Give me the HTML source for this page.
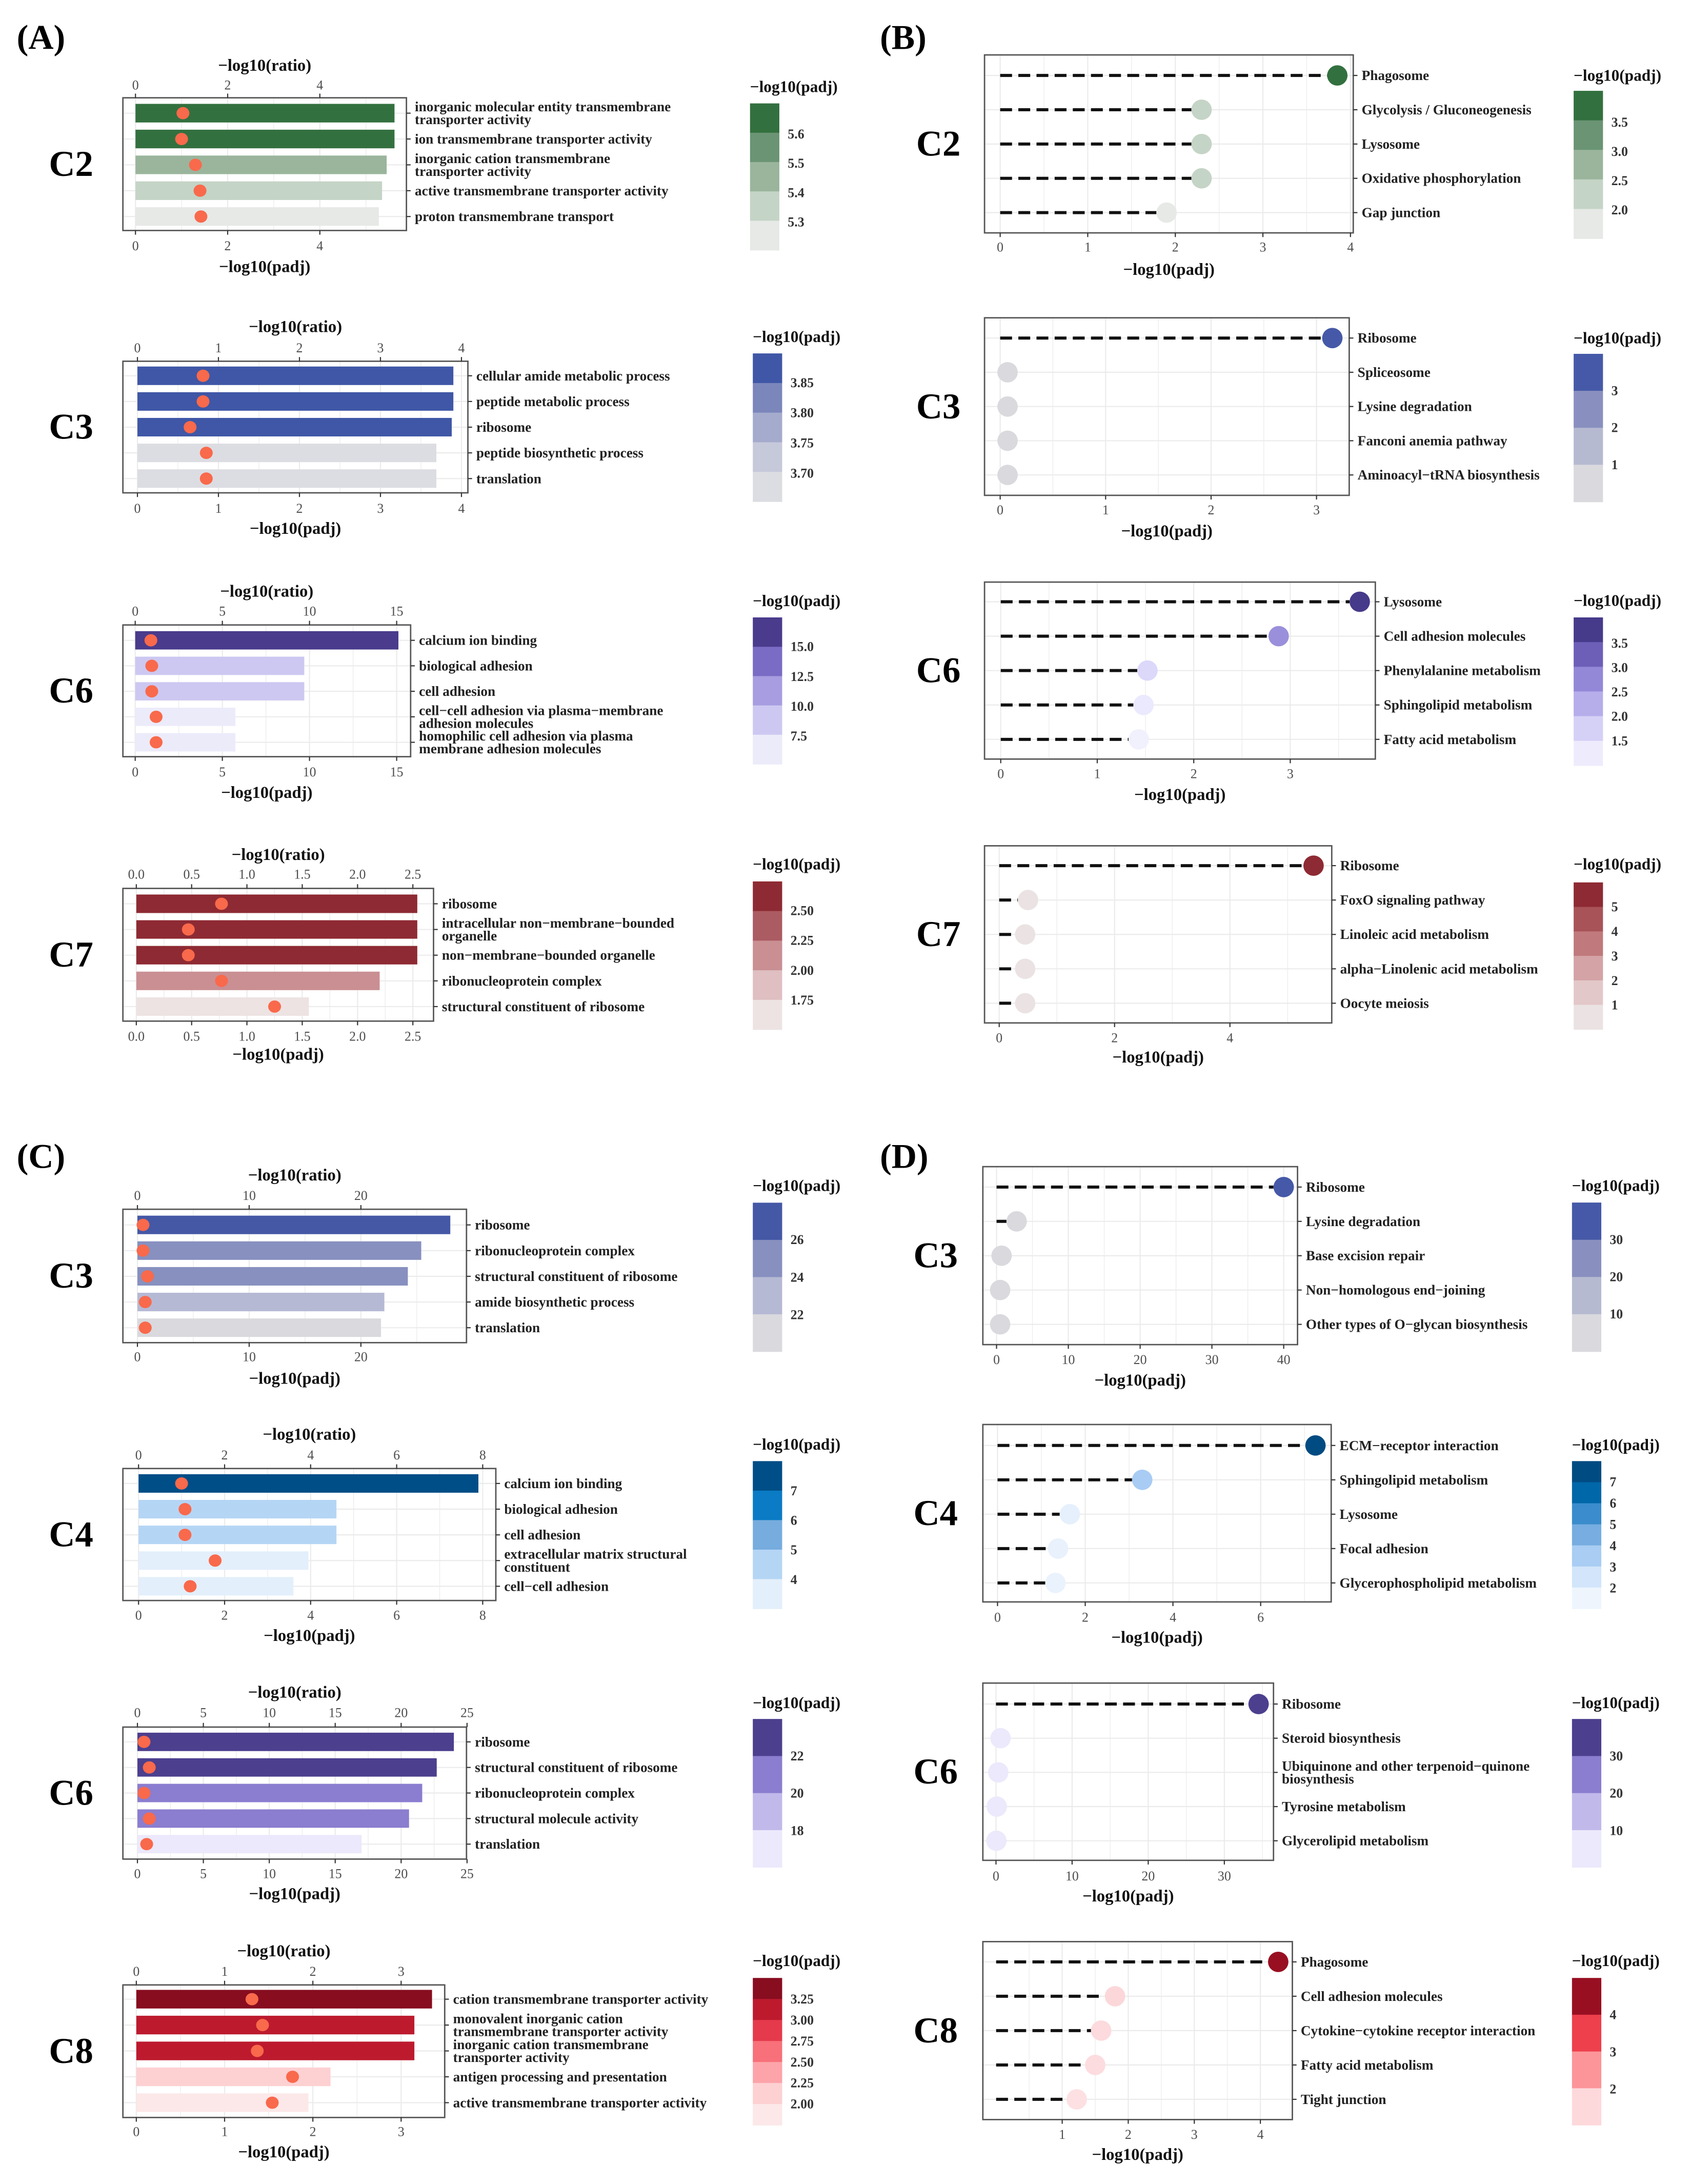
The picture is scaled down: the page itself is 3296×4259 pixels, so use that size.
<!DOCTYPE html>
<html><head><meta charset="utf-8"><style>
html,body{margin:0;padding:0;background:#fff;}
svg{display:block;}
text{font-family:"Liberation Serif",serif;}
</style></head><body>
<svg id="fig" width="3296" height="4259" viewBox="0 0 1210 1563.5" xmlns="http://www.w3.org/2000/svg">
<rect x="0" y="0" width="1210" height="1563.5" fill="#fff"/>
<text x="12" y="35" font-size="25" font-weight="bold">(A)</text>
<text x="630" y="35" font-size="25" font-weight="bold">(B)</text>
<text x="12" y="836" font-size="25" font-weight="bold">(C)</text>
<text x="630" y="836" font-size="25" font-weight="bold">(D)</text>
</svg>
<script>
// ---------- DATA ----------
// Panel A (GO bar charts)
const aC2_terms = ["inorganic molecular entity transmembrane\ntransporter activity","ion transmembrane transporter activity","inorganic cation transmembrane\ntransporter activity","active transmembrane transporter activity","proton transmembrane transport"];
const aC2_padj = [5.62,5.62,5.45,5.35,5.28];
const aC2_ratio = [1.03,1.0,1.3,1.4,1.42];
const aC2_ticks = [0,2,4];
const aC2_tickLabels = ["0","2","4"];
const aC2_legVals = [5.6,5.5,5.4,5.3];
const aC2_legLabels = ["5.6","5.5","5.4","5.3"];

const aC3_terms = ["cellular amide metabolic process","peptide metabolic process","ribosome","peptide biosynthetic process","translation"];
const aC3_padj = [3.9,3.9,3.88,3.69,3.69];
const aC3_ratio = [0.81,0.81,0.65,0.85,0.85];
const aC3_ticks = [0,1,2,3,4];
const aC3_tickLabels = ["0","1","2","3","4"];
const aC3_legVals = [3.85,3.80,3.75,3.70];
const aC3_legLabels = ["3.85","3.80","3.75","3.70"];

const aC6_terms = ["calcium ion binding","biological adhesion","cell adhesion","cell−cell adhesion via plasma−membrane\nadhesion molecules","homophilic cell adhesion via plasma\nmembrane adhesion molecules"];
const aC6_padj = [15.1,9.7,9.7,5.75,5.75];
const aC6_ratio = [0.9,0.95,0.95,1.2,1.2];
const aC6_ticks = [0,5,10,15];
const aC6_tickLabels = ["0","5","10","15"];
const aC6_legVals = [15,12.5,10,7.5];
const aC6_legLabels = ["15.0","12.5","10.0","7.5"];

const aC7_terms = ["ribosome","intracellular non−membrane−bounded\norganelle","non−membrane−bounded organelle","ribonucleoprotein complex","structural constituent of ribosome"];
const aC7_padj = [2.54,2.54,2.54,2.2,1.56];
const aC7_ratio = [0.77,0.47,0.47,0.77,1.25];
const aC7_ticks = [0,0.5,1,1.5,2,2.5];
const aC7_tickLabels = ["0.0","0.5","1.0","1.5","2.0","2.5"];
const aC7_legVals = [2.5,2.25,2.0,1.75];
const aC7_legLabels = ["2.50","2.25","2.00","1.75"];

// Panel C (GO bar charts)
const cC3_terms = ["ribosome","ribonucleoprotein complex","structural constituent of ribosome","amide biosynthetic process","translation"];
const cC3_padj = [28,25.4,24.2,22.1,21.8];
const cC3_ratio = [0.5,0.5,0.9,0.7,0.7];
const cC3_ticks = [0,10,20];
const cC3_tickLabels = ["0","10","20"];
const cC3_legVals = [26,24,22];
const cC3_legLabels = ["26","24","22"];

const cC4_terms = ["calcium ion binding","biological adhesion","cell adhesion","extracellular matrix structural\nconstituent","cell−cell adhesion"];
const cC4_padj = [7.9,4.6,4.6,3.95,3.6];
const cC4_ratio = [1.0,1.08,1.08,1.78,1.2];
const cC4_ticks = [0,2,4,6,8];
const cC4_tickLabels = ["0","2","4","6","8"];
const cC4_legVals = [7,6,5,4];
const cC4_legLabels = ["7","6","5","4"];

const cC6_terms = ["ribosome","structural constituent of ribosome","ribonucleoprotein complex","structural molecule activity","translation"];
const cC6_padj = [24,22.7,21.6,20.6,17];
const cC6_ratio = [0.5,0.9,0.5,0.9,0.7];
const cC6_ticks = [0,5,10,15,20,25];
const cC6_tickLabels = ["0","5","10","15","20","25"];
const cC6_legVals = [22,20,18];
const cC6_legLabels = ["22","20","18"];

const cC8_terms = ["cation transmembrane transporter activity","monovalent inorganic cation\ntransmembrane transporter activity","inorganic cation transmembrane\ntransporter activity","antigen processing and presentation","active transmembrane transporter activity"];
const cC8_padj = [3.35,3.15,3.15,2.2,1.95];
const cC8_ratio = [1.31,1.43,1.37,1.77,1.54];
const cC8_ticks = [0,1,2,3];
const cC8_tickLabels = ["0","1","2","3"];
const cC8_legVals = [3.25,3.0,2.75,2.5,2.25,2.0];
const cC8_legLabels = ["3.25","3.00","2.75","2.50","2.25","2.00"];

// Panel B (KEGG lollipops)
const bC2_terms = ["Phagosome","Glycolysis / Gluconeogenesis","Lysosome","Oxidative phosphorylation","Gap junction"];
const bC2_padj = [3.85,2.3,2.3,2.3,1.9];
const bC2_ticks = [0,1,2,3,4];
const bC2_tickLabels = ["0","1","2","3","4"];
const bC2_legVals = [3.5,3.0,2.5,2.0];
const bC2_legLabels = ["3.5","3.0","2.5","2.0"];

const bC3_terms = ["Ribosome","Spliceosome","Lysine degradation","Fanconi anemia pathway","Aminoacyl−tRNA biosynthesis"];
const bC3_padj = [3.15,0.07,0.07,0.07,0.07];
const bC3_ticks = [0,1,2,3];
const bC3_tickLabels = ["0","1","2","3"];
const bC3_legVals = [3,2,1];
const bC3_legLabels = ["3","2","1"];

const bC6_terms = ["Lysosome","Cell adhesion molecules","Phenylalanine metabolism","Sphingolipid metabolism","Fatty acid metabolism"];
const bC6_padj = [3.72,2.88,1.52,1.48,1.43];
const bC6_ticks = [0,1,2,3];
const bC6_tickLabels = ["0","1","2","3"];
const bC6_legVals = [3.5,3.0,2.5,2.0,1.5];
const bC6_legLabels = ["3.5","3.0","2.5","2.0","1.5"];

const bC7_terms = ["Ribosome","FoxO signaling pathway","Linoleic acid metabolism","alpha−Linolenic acid metabolism","Oocyte meiosis"];
const bC7_padj = [5.45,0.5,0.45,0.45,0.45];
const bC7_ticks = [0,2,4];
const bC7_tickLabels = ["0","2","4"];
const bC7_legVals = [5,4,3,2,1];
const bC7_legLabels = ["5","4","3","2","1"];

// Panel D (KEGG lollipops)
const dC3_terms = ["Ribosome","Lysine degradation","Base excision repair","Non−homologous end−joining","Other types of O−glycan biosynthesis"];
const dC3_padj = [40,2.8,0.7,0.5,0.5];
const dC3_ticks = [0,10,20,30,40];
const dC3_tickLabels = ["0","10","20","30","40"];
const dC3_legVals = [30,20,10];
const dC3_legLabels = ["30","20","10"];

const dC4_terms = ["ECM−receptor interaction","Sphingolipid metabolism","Lysosome","Focal adhesion","Glycerophospholipid metabolism"];
const dC4_padj = [7.25,3.3,1.65,1.38,1.32];
const dC4_ticks = [0,2,4,6];
const dC4_tickLabels = ["0","2","4","6"];
const dC4_legVals = [7,6,5,4,3,2];
const dC4_legLabels = ["7","6","5","4","3","2"];

const dC6_terms = ["Ribosome","Steroid biosynthesis","Ubiquinone and other terpenoid−quinone\nbiosynthesis","Tyrosine metabolism","Glycerolipid metabolism"];
const dC6_padj = [34.5,0.6,0.3,0.1,0.05];
const dC6_ticks = [0,10,20,30];
const dC6_tickLabels = ["0","10","20","30"];
const dC6_legVals = [30,20,10];
const dC6_legLabels = ["30","20","10"];

const dC8_terms = ["Phagosome","Cell adhesion molecules","Cytokine−cytokine receptor interaction","Fatty acid metabolism","Tight junction"];
const dC8_padj = [4.27,1.8,1.59,1.5,1.22];
const dC8_ticks = [1,2,3,4];
const dC8_tickLabels = ["1","2","3","4"];
const dC8_legVals = [4,3,2];
const dC8_legLabels = ["4","3","2"];

// ---------- DRAWING ----------
const NS = "http://www.w3.org/2000/svg";
const svg = document.getElementById('fig');
function mk(tag, attrs, parent){
  const e = document.createElementNS(NS, tag);
  for (const k in attrs) e.setAttribute(k, attrs[k]);
  (parent || svg).appendChild(e);
  return e;
}
function txt(str, x, y, size, anchor, weight, fill, parent){
  const t = mk('text', {x:x, y:y, 'font-size':size, 'text-anchor':anchor, 'font-weight':weight, fill:fill, 'dominant-baseline':'central'}, parent);
  t.textContent = str;
  return t;
}

function common(c, g, ticks, tickLabels, n, top){
  const X = v => c.x0 + v * c.k;
  const rowY = i => c.r0 + i * (c.r1 - c.r0) / (n - 1);
  // background + grid
  mk('rect', {x:c.bx1, y:c.by1, width:c.bx2-c.bx1, height:c.by2-c.by1, fill:'#fff'}, g);
  const step = ticks[1] - ticks[0];
  for (let t = ticks[0] - step/2; X(t) < c.bx2; t += step/2) {
    if (X(t) <= c.bx1) continue;
    const major = Math.abs((t - ticks[0]) / step - Math.round((t - ticks[0]) / step)) < 1e-6;
    const gl = mk('line', {x1:X(t), x2:X(t), y1:c.by1, y2:c.by2, stroke:'#ebebeb', 'stroke-width': major ? 0.8 : 0.45}, g);
    
    
  }
  for (let i = 0; i < n; i++) {
    const hl = mk('line', {x1:c.bx1, x2:c.bx2, y1:rowY(i), y2:rowY(i), stroke:'#ebebeb', 'stroke-width':0.8}, g);
    
    
  }
  return {X, rowY};
}

function axesAndLegend(c, g, ticks, tickLabels, terms, n, X, rowY, legVals, legLabels, top){
  // box
  const box = mk('rect', {x:c.bx1, y:c.by1, width:c.bx2-c.bx1, height:c.by2-c.by1, fill:'none', stroke:'#555', 'stroke-width':1}, g);
  
  
  // bottom ticks
  ticks.forEach((t, i) => {
    mk('line', {x1:X(t), x2:X(t), y1:c.by2, y2:c.by2+3, stroke:'#333', 'stroke-width':0.8}, g);
    const tl = txt(tickLabels[i], X(t), c.tickBot, 9.5, 'middle', 'normal', '#4d4d4d', g);
    
    
    if (top) {
      mk('line', {x1:X(t), x2:X(t), y1:c.by1, y2:c.by1-3, stroke:'#333', 'stroke-width':0.8}, g);
      const tt = txt(tickLabels[i], X(t), c.tickTop, 9.5, 'middle', 'normal', '#4d4d4d', g);
      
      
    }
  });
  const cx = (c.bx1 + c.bx2) / 2;
  const xt = txt('−log10(padj)', cx, c.titleBot, 12, 'middle', 'bold', '#111', g);
  
  
  if (top) {
    const tt = txt('−log10(ratio)', cx, c.titleTop, 12, 'middle', 'bold', '#111', g);
    
    
  }
  // category labels
  terms.forEach((term, i) => {
    const y = rowY(i);
    mk('line', {x1:c.bx2, x2:c.bx2+3, y1:y, y2:y, stroke:'#333', 'stroke-width':0.8}, g);
    const lines = term.split('\n');
    lines.forEach((ln, j) => {
      const ty = y + (j - (lines.length - 1) / 2) * 9.2;
      const t = txt(ln, c.bx2 + 6, ty, 10, 'start', 'bold', '#222', g);
      
      
    });
  });
  // row label
  const rl = txt(c.label, c.labx, (c.by1 + c.by2) / 2, 26, 'start', 'bold', '#000', g);
  
  
  // legend
  const lg = mk('g', {}, g);
  
  
  const lt = txt('−log10(padj)', c.lx, c.lty, 11.5, 'start', 'bold', '#111', lg);
  
  
  const nb = c.lfills.length, bh = (c.ly2 - c.ly1) / nb;
  c.lfills.forEach((f, i) => {
    const b = mk('rect', {x:c.lx, y:c.ly1 + i*bh, width:21, height:bh + 0.3, fill:f}, lg);
    
    
  });
  const vk = (c.lv1 - c.lv0) / (legVals[legVals.length-1] - legVals[0]);
  legVals.forEach((v, i) => {
    const y = c.lv0 + (v - legVals[0]) * vk;
    const t = txt(legLabels[i], c.lx + 27, y, 9.5, 'start', 'bold', '#333', lg);
    
    
  });
}

function barPanel(c, terms, padj, ratio, ticks, tickLabels, legVals, legLabels){
  const g = mk('g', {});
  
  
  const n = terms.length;
  const {X, rowY} = common(c, g, ticks, tickLabels, n, true);
  const sp = (c.r1 - c.r0) / (n - 1);
  padj.forEach((v, i) => {
    const r = mk('rect', {x:X(0), y:rowY(i) - 0.36*sp, width:X(v) - X(0), height:0.72*sp, fill:c.fills[i]}, g);
    
    
  });
  ratio.forEach((v, i) => {
    const d = mk('ellipse', {cx:X(v), cy:rowY(i), rx:4.6, ry:4.4, fill:'#f9694b'}, g);
    
    
  });
  axesAndLegend(c, g, ticks, tickLabels, terms, n, X, rowY, legVals, legLabels, true);
}

function lolliPanel(c, terms, padj, ticks, tickLabels, legVals, legLabels){
  const g = mk('g', {});
  
  
  const n = terms.length;
  const {X, rowY} = common(c, g, ticks, tickLabels, n, false);
  const R = 7.3;
  padj.forEach((v, i) => {
    const end = X(v) - R;
    if (end > X(0) + 1) {
      const l = mk('line', {x1:X(0), x2:end, y1:rowY(i), y2:rowY(i), stroke:'#111', 'stroke-width':2.2, 'stroke-dasharray':'8.5,4.5'}, g);
      
      
    }
  });
  padj.forEach((v, i) => {
    const d = mk('circle', {cx:X(v), cy:rowY(i), r:R, fill:c.fills[i]}, g);
    
    
  });
  axesAndLegend(c, g, ticks, tickLabels, terms, n, X, rowY, legVals, legLabels, false);
}

const G5 = ['#33703f','#6a9474','#9ab59c','#c4d4c6','#e6e9e6'];
// ---- Panel A ----
barPanel({name:'a-c2-bar-chart', label:'C2', labx:35, bx1:88, by1:70, bx2:291, by2:165, x0:97, k:33, r0:81, r1:155,
  titleTop:47, tickTop:61, tickBot:176, titleBot:191, lx:537, ly1:74, ly2:179, lty:62, lv0:96, lv1:159,
  fills:['#33703f','#33703f','#9ab59c','#c4d4c6','#e6e9e6'], lfills:G5},
  aC2_terms, aC2_padj, aC2_ratio, aC2_ticks, aC2_tickLabels, aC2_legVals, aC2_legLabels);
barPanel({name:'a-c3-bar-chart', label:'C3', labx:35, bx1:88, by1:258.6, bx2:335, by2:352.8, x0:98.4, k:58, r0:269, r1:342.6,
  titleTop:234, tickTop:249, tickBot:364, titleBot:378.5, lx:539, ly1:253, ly2:359, lty:241, lv0:274, lv1:338.8,
  fills:['#3f57a6','#3f57a6','#3f57a6','#dcdde2','#dcdde2'], lfills:['#3f57a6','#7b86bb','#a5abcc','#c6c9da','#dcdde2']},
  aC3_terms, aC3_padj, aC3_ratio, aC3_ticks, aC3_tickLabels, aC3_legVals, aC3_legLabels);
barPanel({name:'a-c6-bar-chart', label:'C6', labx:35, bx1:88, by1:447.4, bx2:294, by2:541.7, x0:96.8, k:12.48, r0:458.4, r1:531.4,
  titleTop:423.5, tickTop:437.5, tickBot:552.6, titleBot:567.5, lx:539, ly1:442, ly2:547, lty:430, lv0:463, lv1:527,
  fills:['#4a3b8c','#cdc8f1','#cdc8f1','#ecebfa','#ecebfa'], lfills:['#4a3b8c','#7a6bc4','#a79de0','#cdc8f1','#ecebfa']},
  aC6_terms, aC6_padj, aC6_ratio, aC6_ticks, aC6_tickLabels, aC6_legVals, aC6_legLabels);
barPanel({name:'a-c7-bar-chart', label:'C7', labx:35, bx1:88, by1:636, bx2:310.4, by2:731, x0:97.6, k:79.2, r0:647, r1:720.6,
  titleTop:612, tickTop:626, tickBot:742, titleBot:755, lx:539, ly1:631, ly2:737, lty:618.6, lv0:652, lv1:716,
  fills:['#8e2a33','#8e2a33','#8e2a33','#c98f93','#ede3e3'], lfills:['#8e2a33','#ab5b62','#c98f93','#dfbfc1','#ede3e3']},
  aC7_terms, aC7_padj, aC7_ratio, aC7_ticks, aC7_tickLabels, aC7_legVals, aC7_legLabels);
// ---- Panel C ----
barPanel({name:'c-c3-bar-chart', label:'C3', labx:35, bx1:88, by1:865.7, bx2:334, by2:961.2, x0:98.4, k:8, r0:876.9, r1:950.5,
  titleTop:841.5, tickTop:856, tickBot:971.4, titleBot:987, lx:539, ly1:861, ly2:967.5, lty:848.8, lv0:887.5, lv1:941.3,
  fills:['#4458a6','#8790bf','#8790bf','#b6b9d4','#d9d9de'], lfills:['#4458a6','#8790bf','#b6b9d4','#d9d9de']},
  cC3_terms, cC3_padj, cC3_ratio, cC3_ticks, cC3_tickLabels, cC3_legVals, cC3_legLabels);
barPanel({name:'c-c4-bar-chart', label:'C4', labx:35, bx1:88, by1:1051.3, bx2:355, by2:1145.8, x0:99.2, k:30.8, r0:1062, r1:1135.6,
  titleTop:1027, tickTop:1041.6, tickBot:1156.4, titleBot:1171, lx:539, ly1:1046, ly2:1151.6, lty:1034, lv0:1067.3, lv1:1130.8,
  fills:['#004e87','#b5d5f5','#b5d5f5','#e3effb','#e3effb'], lfills:['#004e87','#0a7bc4','#76acde','#b5d5f5','#e3effb']},
  cC4_terms, cC4_padj, cC4_ratio, cC4_ticks, cC4_tickLabels, cC4_legVals, cC4_legLabels);
barPanel({name:'c-c6-bar-chart', label:'C6', labx:35, bx1:88, by1:1236.4, bx2:334, by2:1330.9, x0:98.4, k:9.44, r0:1247, r1:1320.2,
  titleTop:1211.7, tickTop:1226.2, tickBot:1341.5, titleBot:1356, lx:539, ly1:1230.6, ly2:1336.7, lty:1219, lv0:1257.2, lv1:1310.5,
  fills:['#4c3f8e','#4c3f8e','#8b7dcf','#8b7dcf','#ebe9fb'], lfills:['#4c3f8e','#8b7dcf','#c1b9ea','#ebe9fb']},
  cC6_terms, cC6_padj, cC6_ratio, cC6_ticks, cC6_tickLabels, cC6_legVals, cC6_legLabels);
barPanel({name:'c-c8-bar-chart', label:'C8', labx:35, bx1:88, by1:1421, bx2:318.4, by2:1515.9, x0:97.6, k:63.2, r0:1431.2, r1:1505.3,
  titleTop:1396.8, tickTop:1411.3, tickBot:1526, titleBot:1540.7, lx:539, ly1:1416, ly2:1521.3, lty:1403.6, lv0:1431.2, lv1:1506.3,
  fills:['#870d1f','#bd1a2e','#bd1a2e','#fdd0d2','#fce8e9'], lfills:['#870d1f','#bd1a2e','#e53a4b','#f7707a','#fca4a9','#fdd0d2','#fce8e9']},
  cC8_terms, cC8_padj, cC8_ratio, cC8_ticks, cC8_tickLabels, cC8_legVals, cC8_legLabels);
// ---- Panel B ----
lolliPanel({name:'b-c2-lollipop-chart', label:'C2', labx:656, bx1:704.9, by1:39.3, bx2:968.9, by2:166.7, x0:716.1, k:62.7, r0:54, r1:152.2,
  tickBot:177, titleBot:193, lx:1126.7, ly1:65, ly2:170.7, lty:54, lv0:87.6, lv1:150.3,
  fills:['#33703f','#c4d4c6','#c4d4c6','#c4d4c6','#e6e9e6'], lfills:G5},
  bC2_terms, bC2_padj, bC2_ticks, bC2_tickLabels, bC2_legVals, bC2_legLabels);
lolliPanel({name:'b-c3-lollipop-chart', label:'C3', labx:656, bx1:704.9, by1:227.5, bx2:966, by2:354.6, x0:716.1, k:75.5, r0:242, r1:340,
  tickBot:365, titleBot:380.3, lx:1126.7, ly1:253.3, ly2:359.2, lty:242, lv0:279.7, lv1:332.7,
  fills:['#4659a8','#d9d9de','#d9d9de','#d9d9de','#d9d9de'], lfills:['#4659a8','#8990bf','#b6bad1','#d9d9de']},
  bC3_terms, bC3_padj, bC3_ticks, bC3_tickLabels, bC3_legVals, bC3_legLabels);
lolliPanel({name:'b-c6-lollipop-chart', label:'C6', labx:656, bx1:704.9, by1:416.7, bx2:984.7, by2:543.4, x0:716.5, k:69.1, r0:430.8, r1:529.3,
  tickBot:554, titleBot:569, lx:1126.7, ly1:442, ly2:548, lty:429.8, lv0:460.5, lv1:530.4,
  fills:['#463a8b','#9a8fdb','#dcd8fa','#ebe9fd','#f1f0fd'], lfills:['#463a8b','#6d5fb8','#9388d8','#b6adeb','#d5d0f6','#eeecfc']},
  bC6_terms, bC6_padj, bC6_ticks, bC6_tickLabels, bC6_legVals, bC6_legLabels);
lolliPanel({name:'b-c7-lollipop-chart', label:'C7', labx:656, bx1:704.9, by1:605.5, bx2:953.5, by2:732.3, x0:715.4, k:41.3, r0:619.7, r1:718.2,
  tickBot:743, titleBot:757, lx:1126.7, ly1:631.7, ly2:736.9, lty:618.6, lv0:649.3, lv1:719.6,
  fills:['#8e2a33','#ebe3e3','#ebe3e3','#ebe3e3','#ebe3e3'], lfills:['#8e2a33','#a85358','#c0797c','#d4a3a5','#e3c8c9','#ebe3e3']},
  bC7_terms, bC7_padj, bC7_ticks, bC7_tickLabels, bC7_legVals, bC7_legLabels);
// ---- Panel D ----
lolliPanel({name:'d-c3-lollipop-chart', label:'C3', labx:654, bx1:703.7, by1:835.2, bx2:929, by2:962.6, x0:713.5, k:5.14, r0:849.8, r1:948.1,
  tickBot:973.3, titleBot:988.3, lx:1125.5, ly1:860.9, ly2:967.5, lty:848.8, lv0:887.5, lv1:940.8,
  fills:['#4659a8','#d9d9de','#d9d9de','#d9d9de','#d9d9de'], lfills:['#4659a8','#8990bf','#b6bad1','#d9d9de']},
  dC3_terms, dC3_padj, dC3_ticks, dC3_tickLabels, dC3_legVals, dC3_legLabels);
lolliPanel({name:'d-c4-lollipop-chart', label:'C4', labx:654, bx1:703.7, by1:1019.8, bx2:953.1, by2:1146.8, x0:714.2, k:31.4, r0:1034.8, r1:1133.2,
  tickBot:1157.9, titleBot:1172.4, lx:1125.5, ly1:1046, ly2:1151.6, lty:1034.3, lv0:1061, lv1:1137,
  fills:['#004b82','#a8ccf4','#e5f0fc','#e8f1fc','#eaf2fd'], lfills:['#004b82','#0067a8','#3a8ccc','#77ade0','#a9cdf3','#d2e5fa','#eef5fd']},
  dC4_terms, dC4_padj, dC4_ticks, dC4_tickLabels, dC4_legVals, dC4_legLabels);
lolliPanel({name:'d-c6-lollipop-chart', label:'C6', labx:654, bx1:703.7, by1:1204.9, bx2:911.8, by2:1331.8, x0:713.1, k:5.45, r0:1219.9, r1:1317.8,
  tickBot:1343, titleBot:1357.5, lx:1125.5, ly1:1230.6, ly2:1336.7, lty:1219, lv0:1257.2, lv1:1310.5,
  fills:['#4c3f8e','#ebe9fb','#ebe9fb','#ebe9fb','#ebe9fb'], lfills:['#4c3f8e','#8b7dcf','#c1b9ea','#ebe9fb']},
  dC6_terms, dC6_padj, dC6_ticks, dC6_tickLabels, dC6_legVals, dC6_legLabels);
lolliPanel({name:'d-c8-lollipop-chart', label:'C8', labx:654, bx1:703.7, by1:1390, bx2:925.3, by2:1517.4, x0:713.2, k:47.3, r0:1404.5, r1:1502.9,
  tickBot:1528, titleBot:1542.6, lx:1125.5, ly1:1416, ly2:1521.3, lty:1403.6, lv0:1442.3, lv1:1495.6,
  fills:['#980f22','#fcd7da','#fcdadd','#fcdcdf','#fde0e2'], lfills:['#980f22','#ee3f4c','#fc9599','#fdd9dc']},
  dC8_terms, dC8_padj, dC8_ticks, dC8_tickLabels, dC8_legVals, dC8_legLabels);
</script>
</body></html>
